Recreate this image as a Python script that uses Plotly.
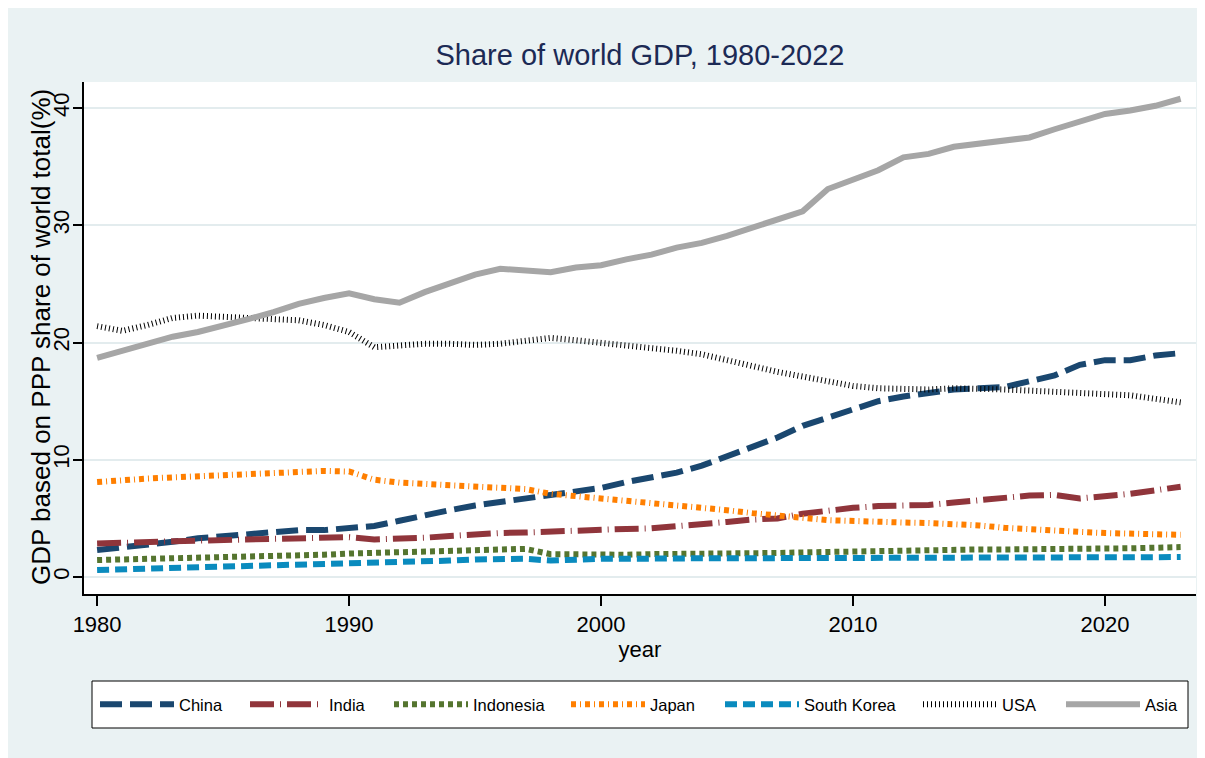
import plotly.graph_objects as go

# ---------------- data ----------------
years = list(range(1980, 2024))

china = [2.3, 2.5, 2.7, 3.0, 3.3, 3.5, 3.7, 3.9, 4.0, 4.0,
         4.15, 4.35, 4.8, 5.3, 5.7, 6.1, 6.4, 6.7, 6.9, 7.2,
         7.6, 8.1, 8.5, 8.9, 9.5, 10.3, 11.1, 11.9, 12.9, 13.6,
         14.3, 15.0, 15.4, 15.7, 16.0, 16.1, 16.2, 16.7, 17.2, 18.1,
         18.5, 18.5, 18.9, 19.1]
india = [2.85, 2.95, 3.0, 3.05, 3.1, 3.15, 3.2, 3.3, 3.4, 3.4,
         3.4, 3.2, 3.25, 3.35, 3.5, 3.65, 3.75, 3.8, 3.9, 4.0,
         4.0, 4.1, 4.15, 4.3, 4.5, 4.7, 4.9, 5.0, 5.4, 5.7,
         5.9, 6.05, 6.1, 6.15, 6.35, 6.6, 6.75, 6.95, 7.0, 6.7,
         6.85, 7.1, 7.4, 7.7]
indonesia = [1.45, 1.5, 1.55, 1.55, 1.6, 1.6, 1.65, 1.7, 1.8, 1.9,
             2.0, 2.05, 2.1, 2.2, 2.25, 2.35, 2.4, 2.4, 1.95, 1.9,
             1.9, 1.9, 1.95, 1.95, 1.95, 2.0, 2.0, 2.05, 2.1, 2.15,
             2.2, 2.25, 2.3, 2.3, 2.35, 2.35, 2.35, 2.35, 2.4, 2.45,
             2.4, 2.45, 2.5, 2.55]
japan = [8.1, 8.3, 8.4, 8.5, 8.6, 8.6, 8.7, 8.8, 8.95, 9.05,
         9.0, 8.3, 8.05, 7.95, 7.85, 7.8, 7.7, 7.5, 7.1, 6.9,
         6.7, 6.6, 6.35, 6.1, 5.95, 5.7, 5.45, 5.2, 5.05, 4.85,
         4.75, 4.7, 4.65, 4.6, 4.55, 4.4, 4.2, 4.05, 3.95, 3.85,
         3.75, 3.7, 3.65, 3.6]
south_korea = [0.6, 0.65, 0.7, 0.75, 0.8, 0.85, 0.9, 0.95, 1.05, 1.1,
               1.2, 1.25, 1.3, 1.35, 1.4, 1.5, 1.5, 1.55, 1.4, 1.5,
               1.55, 1.55, 1.6, 1.6, 1.6, 1.6, 1.6, 1.65, 1.6, 1.6,
               1.65, 1.65, 1.6, 1.65, 1.65, 1.65, 1.65, 1.7, 1.7, 1.7,
               1.7, 1.7, 1.7, 1.7]
usa = [21.4, 21.0, 21.5, 22.1, 22.3, 22.2, 22.1, 22.1, 21.9, 21.5,
       20.9, 19.6, 19.8, 19.9, 19.9, 19.8, 19.9, 20.2, 20.4, 20.2,
       20.0, 19.8, 19.6, 19.3, 19.0, 18.5, 17.9, 17.5, 17.1, 16.7,
       16.3, 16.1, 16.0, 16.0, 16.1, 16.1, 16.0, 15.9, 15.8, 15.8,
       15.7, 15.5, 15.2, 14.9]
asia = [18.7, 19.3, 19.9, 20.5, 20.9, 21.4, 22.0, 22.6, 23.3, 23.8,
        24.2, 23.7, 23.4, 24.3, 25.1, 25.8, 26.3, 26.1, 26.0, 26.4,
        26.6, 27.1, 27.5, 28.1, 28.5, 29.1, 29.8, 30.6, 31.2, 33.1,
        33.9, 34.7, 35.8, 36.1, 36.7, 37.0, 37.3, 37.5, 38.2, 38.9,
        39.5, 39.8, 40.2, 40.8]

series_names = ["China", "India", "Indonesia", "Japan", "South Korea", "USA", "Asia"]
series_values = [china, india, indonesia, japan, south_korea, usa, asia]

x_ticks = [1980, 1990, 2000, 2010, 2020]
y_ticks = [0, 10, 20, 30, 40]

title_text = "Share of world GDP, 1980-2022"
x_title = "year"
y_title = "GDP based on PPP share of world total(%)"

# ---------------- styles ----------------
colors = ["#1A476F", "#90353B", "#55752F", "#FF7F00", "#0A8BBE", "#000000", "#A6A6A6"]
dashes = ["22px,8px", "24px,6px,1px,6px", "5px,4px", "5px,4px,1px,4px",
          "12px,6px", "1px,3px", "solid"]

FONT = "Liberation Sans, Arial, Helvetica, sans-serif"
BG = "#EAF2F3"

# the page body adds an 8px offset; the figure fills the rest of the window
OFF = 8
W, H = 1205 - OFF, 758 - OFF
ML, MR, MT, MB = 84 - OFF, 9, 82 - OFF, 164
PW = W - ML - MR
PH = H - MT - MB


def px_x(sx):
    """screen x (px) -> paper x"""
    return (sx - OFF - ML) / PW


def px_y(sy):
    """screen y (px) -> paper y"""
    return (H - MB - (sy - OFF)) / PH


fig = go.Figure()
legend_keys = ["legend"] + [f"legend{i}" for i in range(2, 8)]
for name, vals, col, dsh, lk in zip(series_names, series_values, colors, dashes, legend_keys):
    fig.add_trace(go.Scatter(
        x=years, y=vals, mode="lines", name=name,
        line=dict(color=col, width=6, dash=dsh),
        legend=lk, hoverinfo="skip",
    ))

# legend item positions (left edge of each sample, screen px)
legend_sample_px = [100, 250, 394, 571, 725, 923, 1066]
leg_y = px_y(704.5)
for lk, sx in zip(legend_keys, legend_sample_px):
    fig.update_layout({lk: dict(
        x=px_x(sx - 5), y=leg_y, xanchor="left", yanchor="middle",
        orientation="h", bgcolor="rgba(0,0,0,0)", borderwidth=0,
        itemwidth=74, font=dict(family=FONT, size=16.5, color="black"),
        itemclick=False, itemdoubleclick=False,
    )})

shapes = [
    # legend frame
    dict(type="rect", xref="paper", yref="paper",
         x0=px_x(92), x1=px_x(1188), y0=px_y(728), y1=px_y(681),
         fillcolor="white", line=dict(color="black", width=1), layer="below"),
]

annotations = [
    dict(text=y_title, xref="paper", yref="paper", x=px_x(41), y=px_y(337),
         xanchor="center", yanchor="middle", textangle=-90, showarrow=False,
         font=dict(family=FONT, size=26, color="black")),
]

fig.update_layout(
    width=W, height=H, autosize=False,
    margin=dict(l=ML, r=MR, t=MT, b=MB),
    paper_bgcolor=BG, plot_bgcolor="white",
    font=dict(family=FONT, color="black"),
    showlegend=True,
    title=dict(text=title_text, x=0.5, xref="paper", xanchor="center",
               y=1 - (55 - OFF) / H, yref="container", yanchor="middle",
               font=dict(family=FONT, size=29, color="#1C2A55")),
    shapes=shapes,
    annotations=annotations,
    xaxis=dict(range=[1979.48, 2023.61], tickmode="array", tickvals=x_ticks,
               ticktext=[str(v) for v in x_ticks],
               ticks="outside", ticklen=10, tickwidth=2, tickcolor="black",
               showline=True, linewidth=2, linecolor="black",
               showgrid=False, zeroline=False,
               tickfont=dict(family=FONT, size=22, color="black"),
               title=dict(text=x_title, font=dict(family=FONT, size=22, color="black"), standoff=4),
               automargin=False),
    yaxis=dict(range=[-1.45, 42.23], tickmode="array", tickvals=y_ticks,
               ticktext=[str(v) for v in y_ticks], tickangle=-90,
               ticks="outside", ticklen=9, tickwidth=2, tickcolor="black",
               ticklabelstandoff=-5,
               showline=True, linewidth=2, linecolor="black",
               showgrid=True, gridcolor="#E3ECEE", gridwidth=2, zeroline=False,
               tickfont=dict(family=FONT, size=22, color="black"),
               automargin=False),
)

fig.write_html(
    "out.html",
    post_script="document.documentElement.style.overflow='hidden';document.body.style.overflow='hidden';",
)
